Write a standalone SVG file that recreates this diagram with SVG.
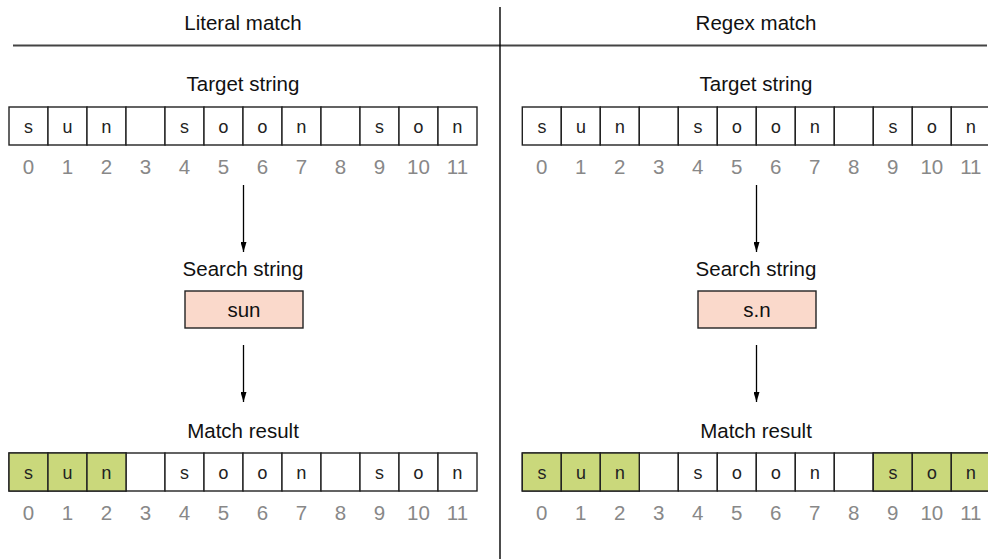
<svg xmlns="http://www.w3.org/2000/svg" width="988" height="559" viewBox="0 0 988 559">
<style>
.t{font-family:"Liberation Sans",Arial,sans-serif;font-size:20.5px;fill:#111;text-anchor:middle}
.ix{font-family:"Liberation Sans",Arial,sans-serif;font-size:20.5px;fill:#888;text-anchor:middle}
.m{font-family:"Liberation Mono","Courier New",monospace;font-size:18px;fill:#222;text-anchor:middle}
.c{fill:#fff;stroke:#222;stroke-width:1.4}
.g{fill:#cad87b;stroke:#222;stroke-width:1.4}
.sb{fill:#fad9cb;stroke:#222;stroke-width:1.4}
.ln{stroke:#000;stroke-width:1.3;fill:none}
</style>
<defs>
<marker id="ah" viewBox="0 0 10 6" refX="10" refY="3" markerWidth="10" markerHeight="6" markerUnits="userSpaceOnUse" orient="auto">
<path d="M0,0 L10,3 L0,6 z" fill="#000"/>
</marker>
<g id="cells">
<rect class="c" x="0" y="0" width="39" height="38"/>
<rect class="c" x="39" y="0" width="39" height="38"/>
<rect class="c" x="78" y="0" width="39" height="38"/>
<rect class="c" x="117" y="0" width="39" height="38"/>
<rect class="c" x="156" y="0" width="39" height="38"/>
<rect class="c" x="195" y="0" width="39" height="38"/>
<rect class="c" x="234" y="0" width="39" height="38"/>
<rect class="c" x="273" y="0" width="39" height="38"/>
<rect class="c" x="312" y="0" width="39" height="38"/>
<rect class="c" x="351" y="0" width="39" height="38"/>
<rect class="c" x="390" y="0" width="39" height="38"/>
<rect class="c" x="429" y="0" width="39" height="38"/>
</g>
<g id="letters">
<text class="m" x="19.5" y="26">s</text>
<text class="m" x="58.5" y="26">u</text>
<text class="m" x="97.5" y="26">n</text>
<text class="m" x="175.5" y="26">s</text>
<text class="m" x="214.5" y="26">o</text>
<text class="m" x="253.5" y="26">o</text>
<text class="m" x="292.5" y="26">n</text>
<text class="m" x="370.5" y="26">s</text>
<text class="m" x="409.5" y="26">o</text>
<text class="m" x="448.5" y="26">n</text>
</g>
<g id="idx">
<text class="ix" x="19.5" y="66.5">0</text>
<text class="ix" x="58.5" y="66.5">1</text>
<text class="ix" x="97.5" y="66.5">2</text>
<text class="ix" x="136.5" y="66.5">3</text>
<text class="ix" x="175.5" y="66.5">4</text>
<text class="ix" x="214.5" y="66.5">5</text>
<text class="ix" x="253.5" y="66.5">6</text>
<text class="ix" x="292.5" y="66.5">7</text>
<text class="ix" x="331.5" y="66.5">8</text>
<text class="ix" x="370.5" y="66.5">9</text>
<text class="ix" x="409.5" y="66.5">10</text>
<text class="ix" x="448.5" y="66.5">11</text>
</g>
</defs>

<g id="dividers">
<line x1="13" y1="45.5" x2="987" y2="45.5" stroke="#444" stroke-width="1.8"/>
<line x1="500" y1="7" x2="500" y2="559" stroke="#000" stroke-width="1.4"/>
</g>

<g id="title-literal"><text class="t" x="243" y="29.5">Literal match</text></g>
<g id="title-regex"><text class="t" x="756" y="29.5">Regex match</text></g>

<!-- Left panel -->
<g id="target-left">
<text class="t" x="243" y="90.5">Target string</text>
<g transform="translate(9,107)">
<use href="#cells"/><use href="#letters"/><use href="#idx"/>
</g>
</g>
<g id="search-left">
<text class="t" x="243" y="275.5">Search string</text>
<rect class="sb" x="185" y="291" width="118" height="37"/>
<text class="t" x="244" y="316.5">sun</text>
</g>
<g id="result-left">
<text class="t" x="243" y="437.5">Match result</text>
<g transform="translate(9,453)">
<use href="#cells"/>
<rect class="g" x="0" y="0" width="39" height="38"/>
<rect class="g" x="39" y="0" width="39" height="38"/>
<rect class="g" x="78" y="0" width="39" height="38"/>
<use href="#letters"/><use href="#idx"/>
</g>
</g>

<!-- Right panel -->
<g id="target-right">
<text class="t" x="756" y="90.5">Target string</text>
<g transform="translate(522.3,107)">
<use href="#cells"/><use href="#letters"/><use href="#idx"/>
</g>
</g>
<g id="search-right">
<text class="t" x="756" y="275.5">Search string</text>
<rect class="sb" x="698" y="291" width="118" height="37"/>
<text class="t" x="757" y="316.5">s.n</text>
</g>
<g id="result-right">
<text class="t" x="756" y="437.5">Match result</text>
<g transform="translate(522.3,453)">
<use href="#cells"/>
<rect class="g" x="0" y="0" width="39" height="38"/>
<rect class="g" x="39" y="0" width="39" height="38"/>
<rect class="g" x="78" y="0" width="39" height="38"/>
<rect class="g" x="351" y="0" width="39" height="38"/>
<rect class="g" x="390" y="0" width="39" height="38"/>
<rect class="g" x="429" y="0" width="39" height="38"/>
<use href="#letters"/><use href="#idx"/>
</g>
</g>

<g id="connectors">
<line class="ln" x1="243.5" y1="185" x2="243.5" y2="252" marker-end="url(#ah)"/>
<line class="ln" x1="243.5" y1="345" x2="243.5" y2="402" marker-end="url(#ah)"/>
<line class="ln" x1="756.5" y1="185" x2="756.5" y2="252" marker-end="url(#ah)"/>
<line class="ln" x1="756.5" y1="345" x2="756.5" y2="402" marker-end="url(#ah)"/>
</g>
</svg>
